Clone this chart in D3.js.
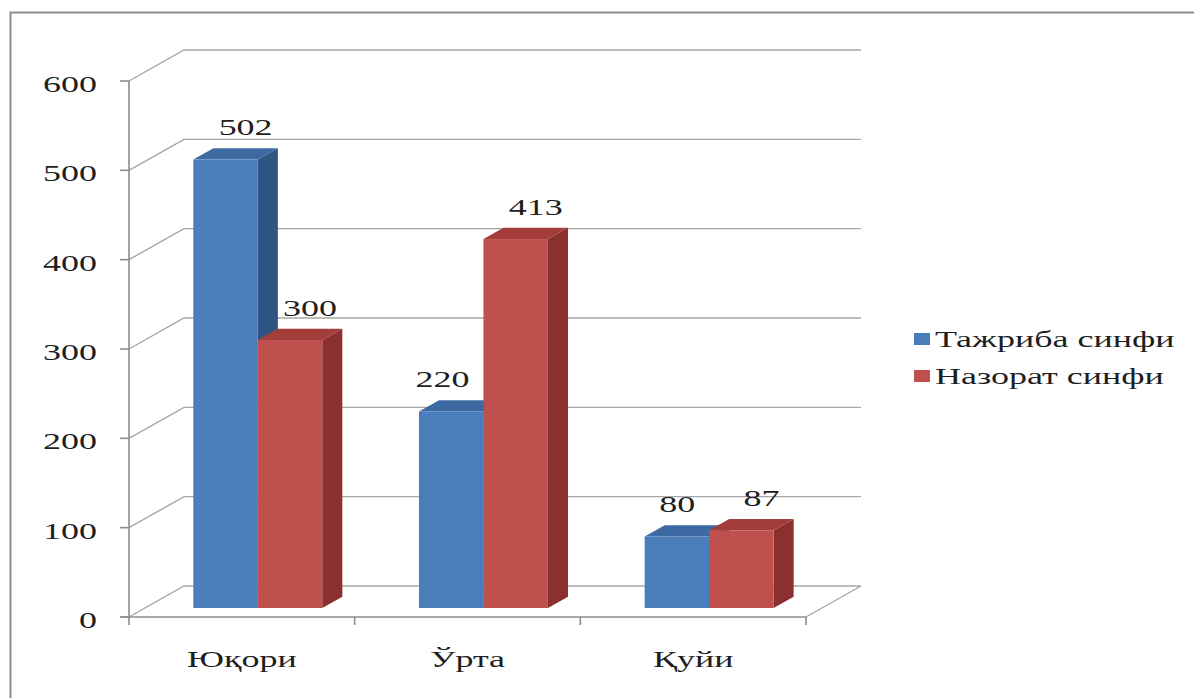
<!DOCTYPE html>
<html>
<head>
<meta charset="utf-8">
<script src="https://cdn.jsdelivr.net/npm/d3@7"></script>
<style>
  html, body { margin: 0; padding: 0; background: #fff; }
  svg { display: block; }
</style>
</head>
<body>
<svg id="chart" width="1194" height="698"></svg>
<script>
// Chart data
const categories = ["Юқори", "Ўрта", "Қуйи"];
const seriesNames = ["Тажриба синфи", "Назорат синфи"];
const experimentValues = [502, 220, 80];
const controlValues = [300, 413, 87];
const yTicks = [0, 100, 200, 300, 400, 500, 600];

const seriesValues = [experimentValues, controlValues];
const palette = [
  { front: "#4a7ebb", side: "#2f5585", top: "#3d6aa3" },
  { front: "#c0504d", side: "#8a302e", top: "#a23d3a" }
];
const textColor = "#1e1e1e";
const fontFamily = "Times New Roman, Liberation Serif, DejaVu Serif, serif";

const svg = d3.select("#chart");

// Layout of the 3D box: front plane and the depth offset to the back wall
const plot = { left: 129, right: 806, base: 617, height: 536 };
const depth = { dx: 55, dy: -31 };
const barFront = 0.29, barBack = 0.655;   // bar depth position as a fraction of the box depth
const sx = 1.5;                            // horizontal stretch of the lettering

const y = d3.scaleLinear().domain([0, 600]).range([plot.base, plot.base - plot.height]);
const x0 = d3.scaleBand().domain(categories).range([plot.left, plot.right]);
const x1 = d3.scaleBand().domain(d3.range(seriesNames.length)).range([0, x0.bandwidth()])
  .paddingInner(0).paddingOuter(0.75);

const P = (x, yy, t) => [x + depth.dx * t, yy + depth.dy * t];
const poly = pts => pts.map(p => p.join(",")).join(" ");
const label = (sel) => sel.style("font-family", fontFamily).attr("font-size", 24).attr("fill", textColor);

// Outer frame
svg.append("rect").attr("x", 10.5).attr("y", 12.5).attr("width", 1200).attr("height", 700)
  .attr("fill", "none").attr("stroke", "#8e8e8e").attr("stroke-width", 2);

// Gridlines: back wall horizontals and left wall diagonals
const grid = svg.append("g").attr("stroke", "#a6a6a6").attr("stroke-width", 1.4).attr("fill", "none");
yTicks.forEach(v => {
  const a = P(plot.left, y(v), 0), b = P(plot.left, y(v), 1), c = P(plot.right, y(v), 1);
  grid.append("polyline").attr("points", poly([a, b, c]));
});
// Floor right edge
grid.append("line")
  .attr("x1", plot.right).attr("y1", y(0))
  .attr("x2", P(plot.right, y(0), 1)[0]).attr("y2", P(plot.right, y(0), 1)[1]);

// Front axes
const axis = svg.append("g").attr("stroke", "#8c8c8c").attr("stroke-width", 1.6);
axis.append("line").attr("x1", plot.left).attr("x2", plot.left).attr("y1", y(600)).attr("y2", y(0) + 8);
axis.append("line").attr("x1", plot.left - 8).attr("x2", plot.right).attr("y1", y(0)).attr("y2", y(0));
yTicks.forEach(v => {
  axis.append("line").attr("x1", plot.left - 9).attr("x2", plot.left).attr("y1", y(v)).attr("y2", y(v));
});
categories.forEach(c => {
  const xb = x0(c) + x0.bandwidth();
  axis.append("line").attr("x1", xb).attr("x2", xb).attr("y1", y(0)).attr("y2", y(0) + 8);
});

// Value axis labels
svg.append("g").selectAll("text").data(yTicks).join("text")
  .call(label)
  .attr("transform", d => `translate(97,${y(d) + 11}) scale(${sx},1)`)
  .attr("text-anchor", "end")
  .text(d => d);

// Category labels
svg.append("g").selectAll("text").data(categories).join("text")
  .call(label)
  .attr("transform", d => `translate(${x0(d) + x0.bandwidth() / 2},667) scale(${sx},1)`)
  .attr("text-anchor", "middle")
  .text(d => d);

// Bars
const bars = svg.append("g");
const labelInfo = [];
categories.forEach((c, ci) => {
  seriesValues.forEach((vals, si) => {
    const v = vals[ci];
    const xl = x0(c) + x1(si), xr = xl + x1.bandwidth();
    const yb = y(0), yt = y(v);
    const col = palette[si];
    const fl = P(xl, yt, barFront), fr = P(xr, yt, barFront);
    const bl = P(xl, yt, barBack), br = P(xr, yt, barBack);
    const frb = P(xr, yb, barFront), brb = P(xr, yb, barBack);
    const flb = P(xl, yb, barFront);
    // right side
    bars.append("polygon").attr("points", poly([fr, br, brb, frb])).attr("fill", col.side);
    // top
    bars.append("polygon").attr("points", poly([fl, bl, br, fr])).attr("fill", col.top);
    // front
    bars.append("rect").attr("x", fl[0]).attr("y", fl[1])
      .attr("width", fr[0] - fl[0]).attr("height", flb[1] - fl[1]).attr("fill", col.front);
    labelInfo.push({ ci, si, v, xl, xr, fl, bl, br });
  });
});

// Value labels above each bar, nudged left when the neighbouring bar is taller
const labels = svg.append("g");
labelInfo.forEach(d => {
  let cx = (d.bl[0] + d.br[0]) / 2;
  const cy = d.bl[1] - 21;
  const t = labels.append("text").call(label)
    .attr("text-anchor", "middle").text(d.v);
  const w = t.node().getComputedTextLength() * sx;
  const next = labelInfo.find(o => o.ci === d.ci && o.si === d.si + 1);
  if (next && next.v > d.v) {
    const limit = next.fl[0] - 14;
    if (cx + w / 2 > limit) cx = limit - w / 2;
  }
  t.attr("transform", `translate(${cx},${cy + 8}) scale(${sx},1)`);
});

// Legend
const legend = svg.append("g");
seriesNames.forEach((name, i) => {
  const yy = 339 + i * 37;
  legend.append("rect").attr("x", 914).attr("y", yy - 6).attr("width", 16).attr("height", 12)
    .attr("fill", palette[i].front);
  legend.append("text").call(label)
    .attr("transform", `translate(935,${yy + 8}) scale(${sx},1)`)
    .text(name);
});
</script>
</body>
</html>
